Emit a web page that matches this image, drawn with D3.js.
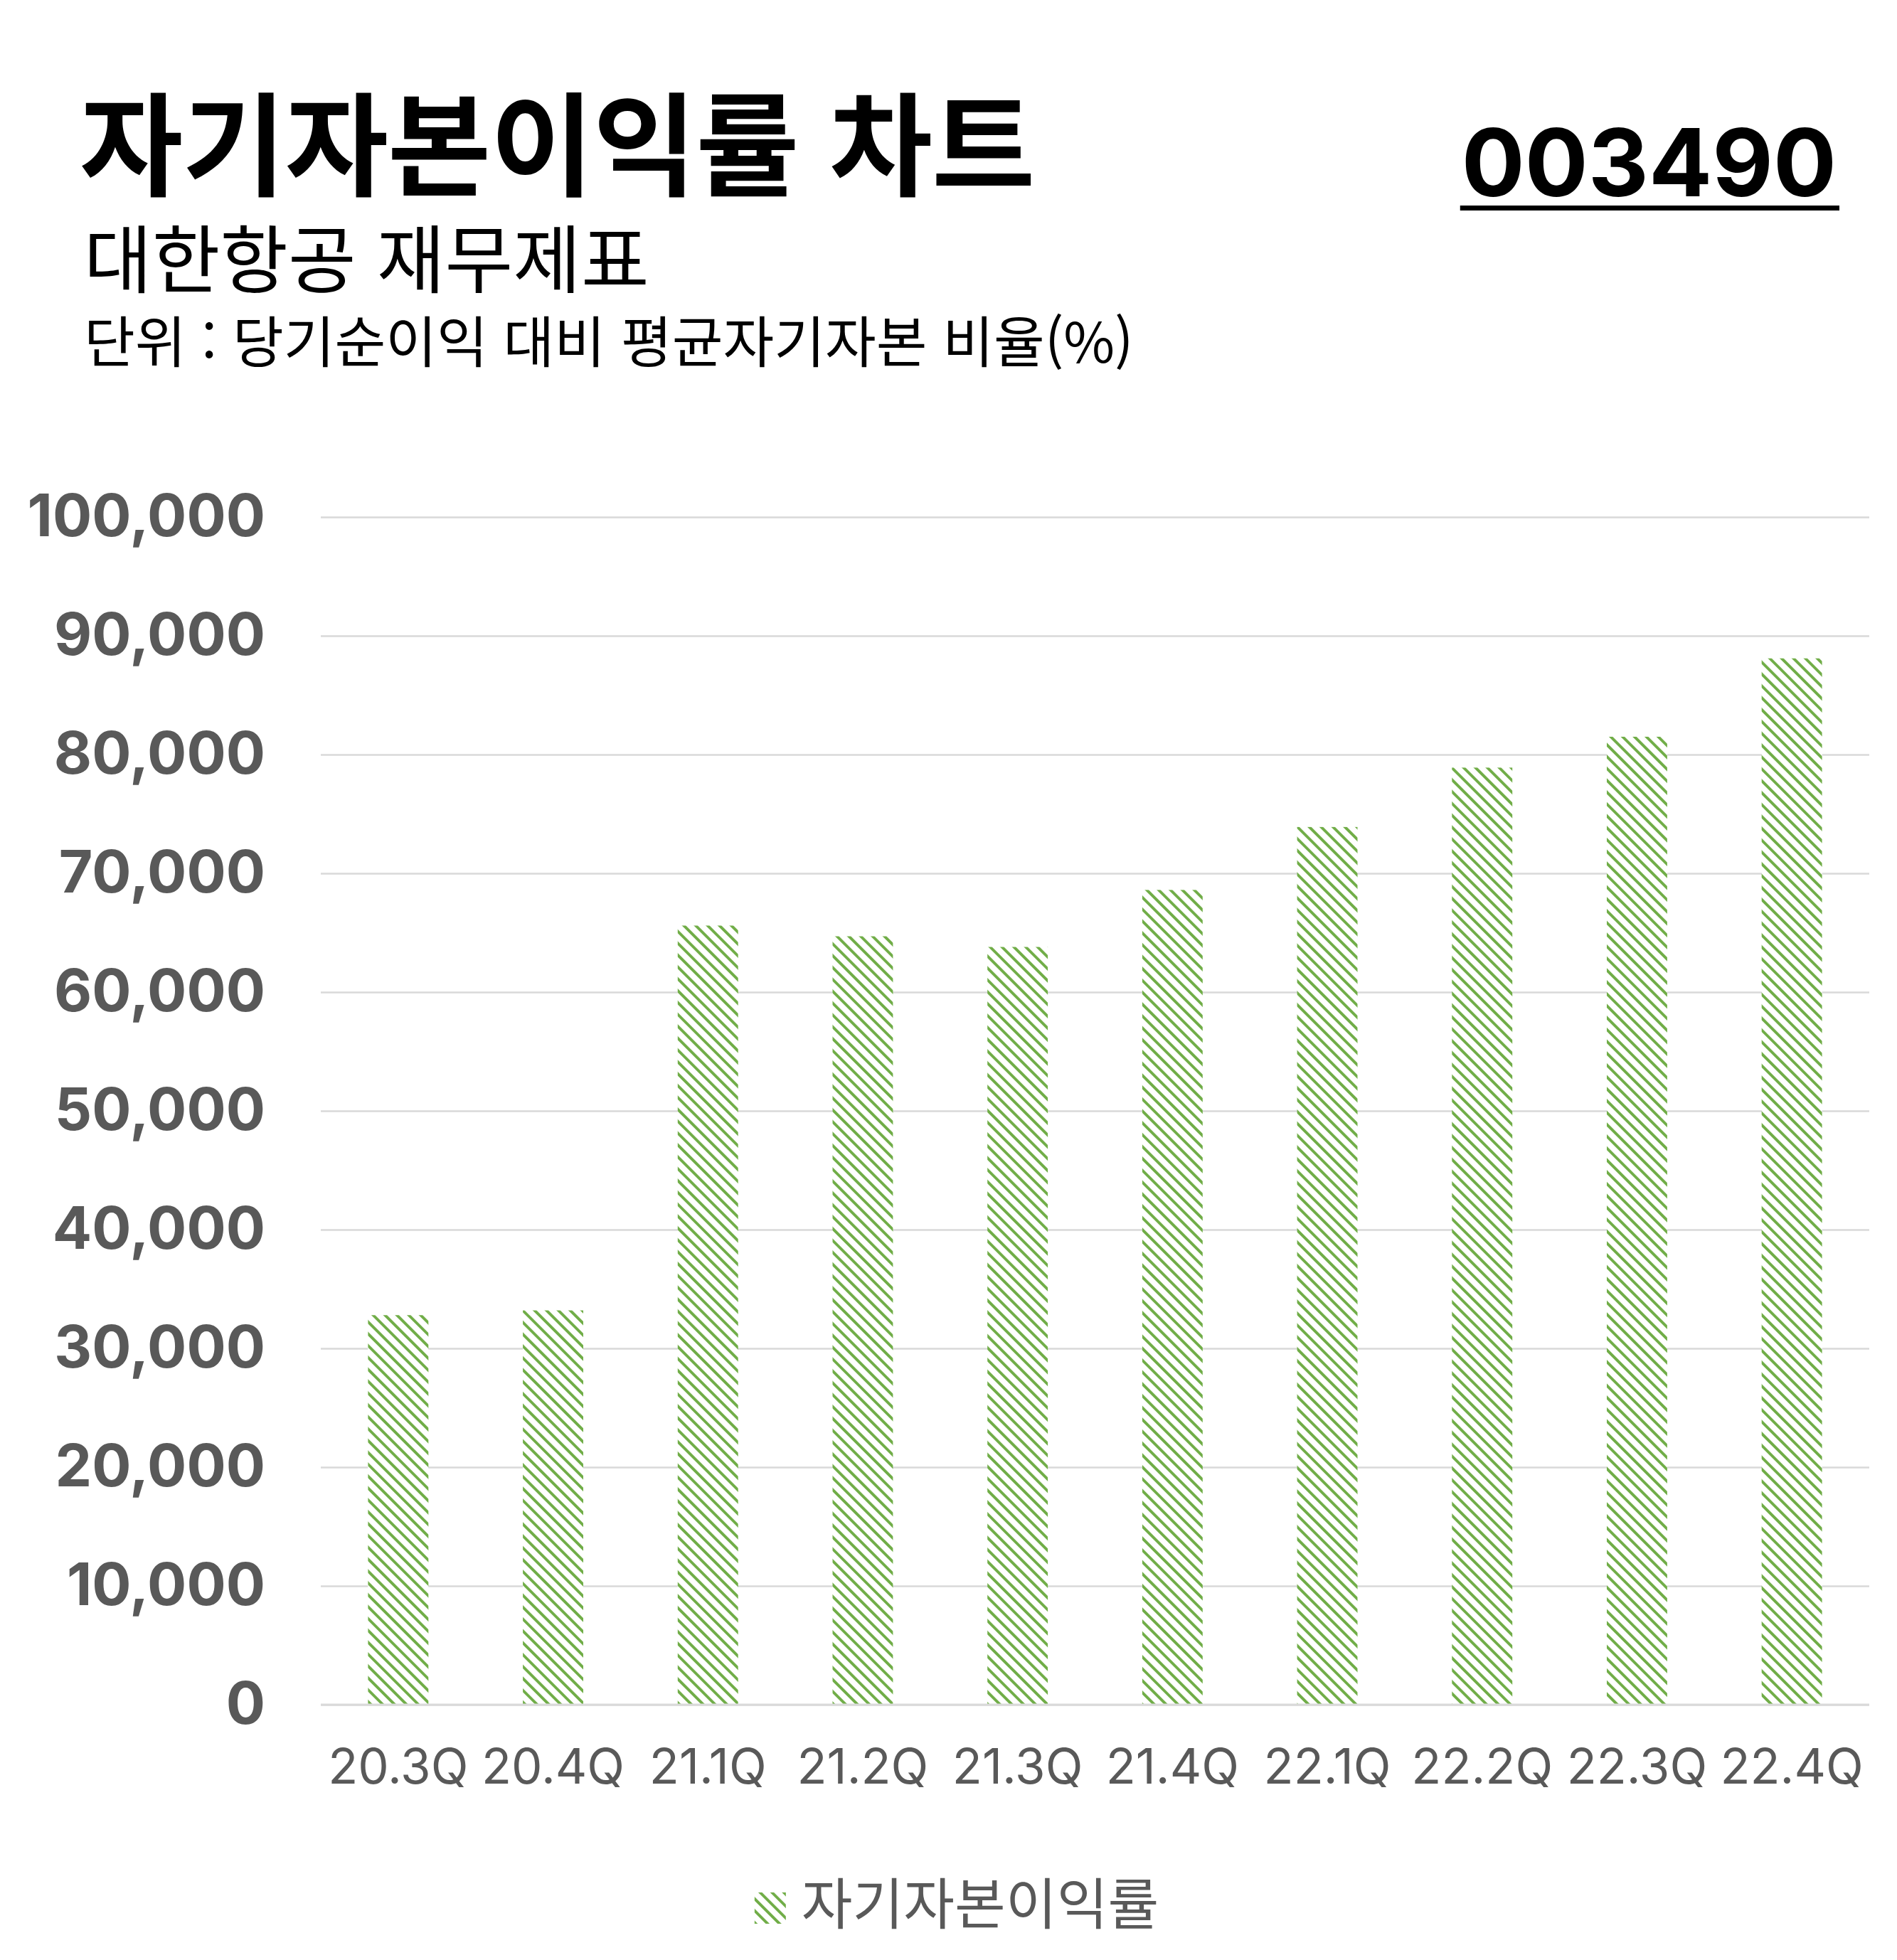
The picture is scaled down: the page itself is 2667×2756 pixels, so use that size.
<!DOCTYPE html>
<html lang="ko">
<head>
<meta charset="utf-8">
<script src="https://cdn.jsdelivr.net/npm/d3@7"></script>
<style>
  body { margin: 0; background: #fff; }
  svg { display: block; }
</style>
</head>
<body>
<div id="chart"></div>
<script>
// chart data
const categories = ["20.3Q", "20.4Q", "21.1Q", "21.2Q", "21.3Q", "21.4Q", "22.1Q", "22.2Q", "22.3Q", "22.4Q"];
const roeValues = [32800, 33200, 65600, 64700, 63800, 68600, 73900, 78900, 81500, 88100];
const yTicks = [0, 10000, 20000, 30000, 40000, 50000, 60000, 70000, 80000, 90000, 100000];
const seriesName = "자기자본이익률";
const titleText = "자기자본이익률 차트";
const subtitleText = "대한항공 재무제표";
const unitText = "단위 : 당기순이익 대비 평균자기자본 비율(%)";
const codeText = "003490";

const KR = "'Noto Sans CJK KR', 'Noto Sans', sans-serif";
const LATIN = "Inter, 'Noto Sans', sans-serif";
const green = "#70ad47";
const grey = "#595959";

var W = 2667, H = 2756;
var margin = { top: 727, right: 39, bottom: 359, left: 451 },
    width = W - margin.left - margin.right,
    height = H - margin.top - margin.bottom;

var root = d3.select("#chart")
    .append("svg")
    .attr("width", W)
    .attr("height", H);

// diagonal hatch fill
var defs = root.append("defs");
var pat = defs.append("pattern")
    .attr("id", "hatch")
    .attr("patternUnits", "userSpaceOnUse")
    .attr("width", 11.8)
    .attr("height", 11.8)
    .attr("patternTransform", "rotate(-45)");
pat.append("rect").attr("width", 11.8).attr("height", 11.8).attr("fill", "#fff");
pat.append("rect").attr("width", 3.9).attr("height", 11.8).attr("fill", green);

// titles
root.append("text")
    .attr("x", 112).attr("y", 263)
    .style("font-family", KR).style("font-weight", 700)
    .style("font-size", "158px").style("letter-spacing", "-1px")
    .attr("fill", "#000")
    .text(titleText);

root.append("text")
    .attr("x", 118).attr("y", 404)
    .style("font-family", KR).style("font-weight", 400)
    .style("font-size", "104px")
    .attr("fill", "#000")
    .text(subtitleText);

root.append("text")
    .attr("x", 118).attr("y", 510)
    .style("font-family", KR).style("font-weight", 400)
    .style("font-size", "78px")
    .attr("fill", "#000")
    .text(unitText);

var code = root.append("text")
    .attr("x", 2582).attr("y", 276)
    .attr("text-anchor", "end")
    .style("font-family", LATIN).style("font-weight", 700)
    .style("font-size", "132px")
    .attr("fill", "#000")
    .text(codeText);
var cb = code.node().getBBox();
root.append("rect")
    .attr("x", cb.x - 2).attr("y", 289)
    .attr("width", cb.width + 6).attr("height", 7)
    .attr("fill", "#000");

var svg = root.append("g")
    .attr("transform", "translate(" + margin.left + "," + margin.top + ")");

// scales
var x = d3.scaleBand()
    .domain(categories)
    .range([0, width])
    .paddingInner(0.61)
    .paddingOuter(0.305);

var y = d3.scaleLinear()
    .domain([0, 100000])
    .range([height, 0]);

// y axis with gridlines
var yAxis = svg.append("g")
    .call(d3.axisLeft(y)
        .tickValues(yTicks)
        .tickSize(-width)
        .tickPadding(78)
        .tickFormat(d3.format(",")));
yAxis.select(".domain").remove();
yAxis.selectAll(".tick line")
    .attr("stroke", "#d9d9d9")
    .attr("stroke-width", 2.5);
yAxis.selectAll(".tick text")
    .attr("dy", 26)
    .attr("fill", grey)
    .style("font-family", LATIN)
    .style("font-weight", 700)
    .style("font-size", "82px");

// bars
svg.selectAll("rect.bar")
    .data(roeValues)
    .enter()
    .append("rect")
    .attr("class", "bar")
    .attr("x", function (d, i) { return x(categories[i]); })
    .attr("y", function (d) { return y(d); })
    .attr("width", x.bandwidth())
    .attr("height", function (d) { return height - y(d); })
    .attr("fill", "url(#hatch)");

// baseline redrawn on top
svg.append("line")
    .attr("x1", 0).attr("x2", width)
    .attr("y1", height).attr("y2", height)
    .attr("stroke", "#d9d9d9")
    .attr("stroke-width", 3);

// x axis
var xAxis = svg.append("g")
    .attr("transform", "translate(0," + height + ")")
    .call(d3.axisBottom(x).tickSize(0));
xAxis.select(".domain").remove();
xAxis.selectAll(".tick text")
    .attr("y", 111)
    .attr("dy", null)
    .attr("fill", grey)
    .style("font-family", LATIN)
    .style("font-weight", 400)
    .style("font-size", "69px");

// legend
var legend = root.append("g");
legend.append("rect")
    .attr("x", 0).attr("y", -45)
    .attr("width", 44).attr("height", 44)
    .attr("fill", "url(#hatch)");
legend.append("text")
    .attr("x", 66).attr("y", 0)
    .style("font-family", KR).style("font-weight", 400)
    .style("font-size", "78px")
    .attr("fill", grey)
    .text(seriesName);
var lb = legend.node().getBBox();
legend.attr("transform", "translate(" + (1345 - lb.width / 2) + ",2706)");
</script>
</body>
</html>
